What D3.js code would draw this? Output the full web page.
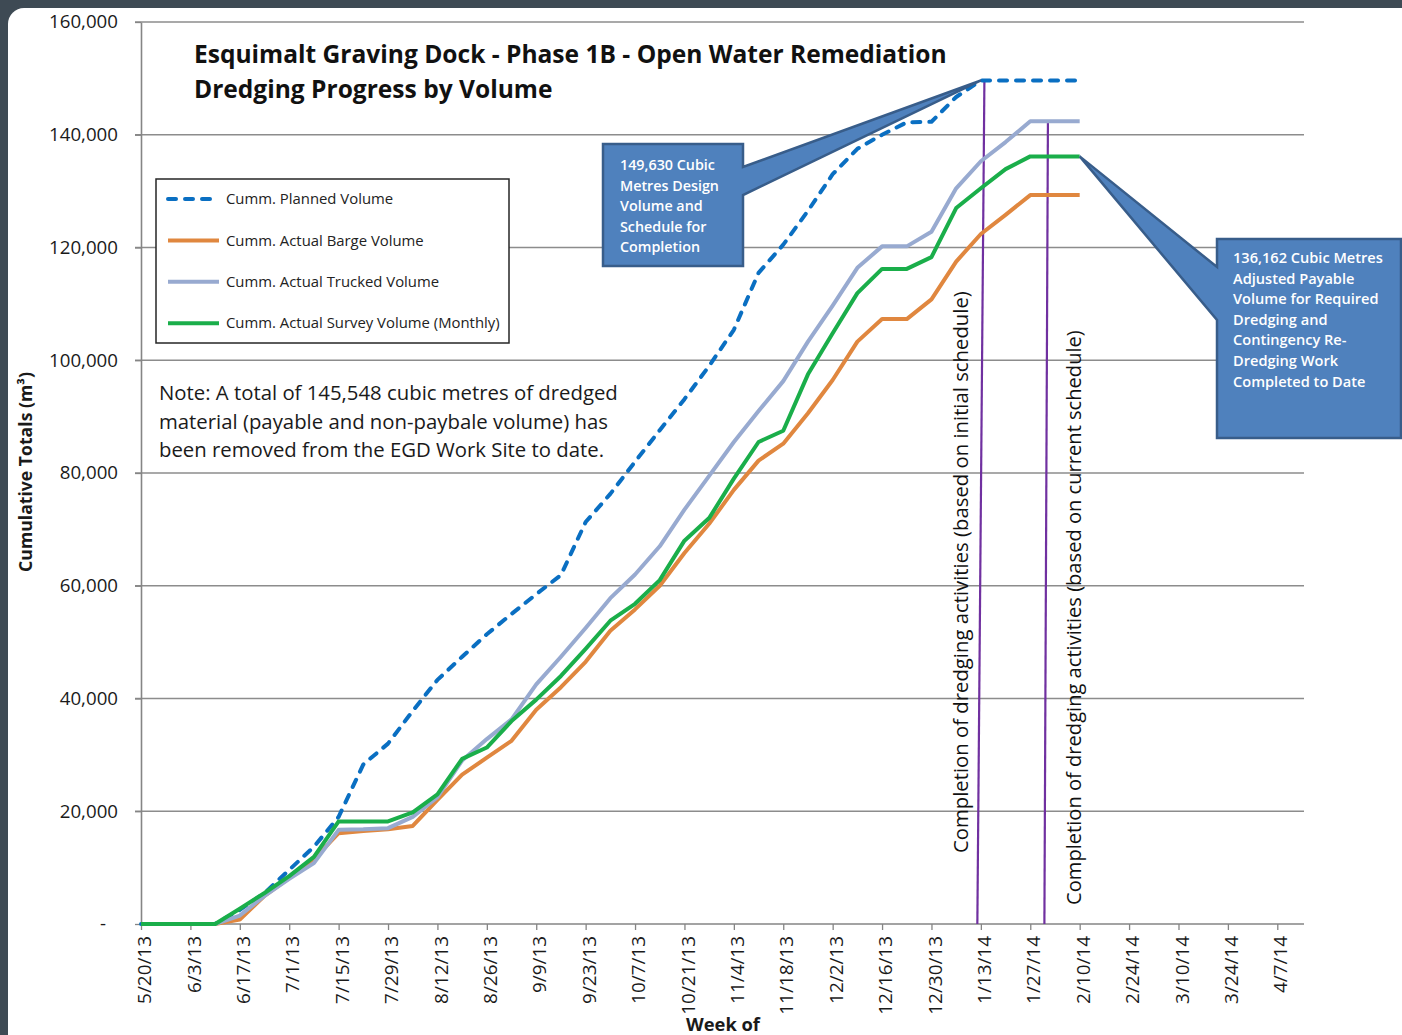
<!DOCTYPE html>
<html>
<head>
<meta charset="utf-8">
<script src="https://cdn.jsdelivr.net/npm/d3@7"></script>
<style>
body { margin: 0; background: #3e4a54; }
svg { display: block; font-family: "Open Sans", "Noto Sans", sans-serif; }
</style>
</head>
<body>
<svg width="1402" height="1035"></svg>
<script>
// ---- Data ----
const weeks = ["5/20/13","5/27/13","6/3/13","6/10/13","6/17/13","6/24/13","7/1/13","7/8/13",
    "7/15/13","7/22/13","7/29/13","8/5/13","8/12/13","8/19/13","8/26/13","9/2/13","9/9/13",
    "9/16/13","9/23/13","9/30/13","10/7/13","10/14/13","10/21/13","10/28/13","11/4/13",
    "11/11/13","11/18/13","11/25/13","12/2/13","12/9/13","12/16/13","12/23/13","12/30/13",
    "1/6/14","1/13/14","1/20/14","1/27/14","2/3/14","2/10/14"];

const tickLabels = ["5/20/13","6/3/13","6/17/13","7/1/13","7/15/13","7/29/13","8/12/13",
    "8/26/13","9/9/13","9/23/13","10/7/13","10/21/13","11/4/13","11/18/13","12/2/13",
    "12/16/13","12/30/13","1/13/14","1/27/14","2/10/14","2/24/14","3/10/14","3/24/14","4/7/14"];

const planned = [0,0,0,0,2500,5500,9600,13700,19000,28300,32000,37800,43300,47400,51400,
    55000,58500,61900,71300,76300,82000,87600,93100,99000,105400,115500,120500,126500,
    133000,137500,140000,142200,142300,146700,149630,149630,149630,149630,149630];
const barge = [0,0,0,0,800,5000,8200,11500,16100,16500,16800,17400,22000,26500,29500,
    32500,38000,42000,46500,52000,55800,60000,65800,71000,77000,82200,85200,90600,96500,
    103300,107300,107300,110800,117500,122400,125800,129300,129300,129300];
const trucked = [0,0,0,0,1500,5000,8000,10800,16700,16800,17000,19000,22500,29000,32800,
    36300,42500,47400,52500,57800,62000,67000,73500,79500,85500,91000,96300,103300,109700,
    116400,120200,120200,122800,130500,135300,138700,142400,142400,142400];
const survey = [0,0,0,0,2700,5500,8500,11900,18200,18200,18200,19800,23000,29300,31300,
    36000,39800,44000,48800,53800,56800,61000,68000,72000,79000,85500,87500,97500,104800,
    111900,116200,116200,118300,127000,130500,133900,136162,136162,136162];

const seriesNames = ["Cumm. Planned Volume", "Cumm. Actual Barge Volume",
    "Cumm. Actual Trucked Volume", "Cumm. Actual Survey Volume (Monthly)"];
const yTicks = [0,20000,40000,60000,80000,100000,120000,140000,160000];

const titleLines = ["Esquimalt Graving Dock - Phase 1B - Open Water Remediation",
    "Dredging Progress by Volume"];
const noteLines = ["Note: A total of 145,548 cubic metres of dredged",
    "material (payable and non-paybale volume) has",
    "been removed from the EGD Work Site to date."];
const callout1 = ["149,630 Cubic", "Metres Design", "Volume and", "Schedule for", "Completion"];
const callout2 = ["136,162 Cubic Metres", "Adjusted Payable", "Volume for Required",
    "Dredging and", "Contingency Re-", "Dredging Work", "Completed to Date"];
const completionLabels = ["Completion of dredging activities (based on initial schedule)",
    "Completion of dredging activities (based on current schedule)"];

// ---- Setup ----
const parse = d3.timeParse("%m/%d/%y");
const svg = d3.select("svg");

// white page with rounded corner over the dark frame
svg.append("rect")
    .attr("x", 8).attr("y", 8)
    .attr("width", 1420).attr("height", 1060)
    .attr("rx", 16)
    .attr("fill", "#ffffff");

const x = d3.scaleTime()
    .domain([parse("5/20/13"), parse("4/14/14")])
    .range([141, 1302]);
const y = d3.scaleLinear()
    .domain([0, 160000])
    .range([924, 22]);
const xRight = 1304;

// scale a set of text nodes so that a reference line gets a given width
function fitSize(sel, refNode, width) {
    const fs = parseFloat(d3.select(refNode).style("font-size"));
    const L = refNode.getComputedTextLength();
    sel.style("font-size", (fs * width / L) + "px");
}

// ---- Grid ----
svg.append("g")
    .selectAll("line")
    .data(yTicks.filter(d => d > 0))
    .join("line")
    .attr("x1", 135).attr("x2", xRight)
    .attr("y1", d => y(d)).attr("y2", d => y(d))
    .attr("stroke", "#8c8c8c")
    .attr("stroke-width", 1.3);

// ---- Axes ----
const yAxis = svg.append("g")
    .attr("transform", "translate(141,0)")
    .call(d3.axisLeft(y)
        .tickValues(yTicks)
        .tickSize(6)
        .tickSizeOuter(0)
        .tickPadding(17)
        .tickFormat(d => d === 0 ? "-" : d3.format(",")(d)));
yAxis.select(".domain").attr("stroke", "#858585").attr("stroke-width", 1.6);
yAxis.selectAll(".tick line").attr("stroke", "#858585").attr("stroke-width", 1.3);
yAxis.selectAll(".tick text")
    .attr("fill", "#1a1a1a")
    .style("font-family", "'Open Sans', sans-serif")
    .style("font-size", "18px")
    .attr("dx", d => d === 0 ? -12 : 0);
fitSize(yAxis.selectAll(".tick text"), yAxis.selectAll(".tick text").nodes()[8], 69);

const tickDates = tickLabels.map(parse);
const xAxis = svg.append("g")
    .attr("transform", "translate(0,924)")
    .call(d3.axisBottom(x)
        .tickValues(tickDates)
        .tickSize(6)
        .tickSizeOuter(0)
        .tickFormat(d3.timeFormat("%-m/%-d/%y")));
xAxis.select(".domain")
    .attr("d", `M141,0H${xRight}`)
    .attr("stroke", "#858585").attr("stroke-width", 1.6);
xAxis.selectAll(".tick line").attr("stroke", "#858585").attr("stroke-width", 1.3);
xAxis.selectAll(".tick text")
    .attr("transform", "rotate(-90)")
    .attr("text-anchor", "end")
    .attr("x", -12)
    .attr("y", 3)
    .attr("dy", "0.35em")
    .attr("fill", "#1a1a1a")
    .style("font-family", "'Open Sans', sans-serif")
    .style("font-size", "18px");
fitSize(xAxis.selectAll(".tick text"), xAxis.selectAll(".tick text").nodes()[0], 68);

// axis titles
const yTitle = svg.append("text")
    .attr("transform", "translate(32,472) rotate(-90)")
    .attr("text-anchor", "middle")
    .attr("font-weight", "bold")
    .attr("fill", "#1a1a1a")
    .style("font-size", "15px")
    .text("Cumulative Totals (m³)");
fitSize(yTitle, yTitle.node(), 200);

const xTitle = svg.append("text")
    .attr("x", 723).attr("y", 1031)
    .attr("text-anchor", "middle")
    .attr("font-weight", "bold")
    .attr("fill", "#1a1a1a")
    .style("font-size", "17px")
    .text("Week of");
fitSize(xTitle, xTitle.node(), 74);

// ---- Completion lines ----
const completionLines = [
    {bottom: parse("1/12/14"), top: parse("1/14/14"), value: 149630},
    {bottom: parse("1/31/14"), top: parse("2/1/14"), value: 142400}
];
svg.append("g")
    .selectAll("line")
    .data(completionLines)
    .join("line")
    .attr("x1", d => x(d.bottom)).attr("y1", y(0))
    .attr("x2", d => x(d.top)).attr("y2", d => y(d.value))
    .attr("stroke", "#7030a0")
    .attr("stroke-width", 2.2);

const compText = svg.append("g")
    .selectAll("text")
    .data(completionLabels)
    .join("text")
    .attr("transform", (d, i) => i === 0 ? "translate(968,853) rotate(-90)" : "translate(1081,905) rotate(-90)")
    .attr("fill", "#111")
    .style("font-size", "19px")
    .text(d => d);
compText.each(function (d, i) {
    fitSize(d3.select(this), this, i === 0 ? 562 : 575);
});

// ---- Series ----
const series = [
    {name: seriesNames[0], values: planned, color: "#0a6fc2", dash: "8,9"},
    {name: seriesNames[1], values: barge, color: "#e0873f", dash: null},
    {name: seriesNames[2], values: trucked, color: "#98aad0", dash: null},
    {name: seriesNames[3], values: survey, color: "#1aae4a", dash: null}
];
const line = d3.line()
    .x((d, i) => x(parse(weeks[i])))
    .y(d => y(d));

svg.append("g")
    .selectAll("path")
    .data(series)
    .join("path")
    .attr("d", d => line(d.values))
    .attr("fill", "none")
    .attr("stroke", d => d.color)
    .attr("stroke-width", 4)
    .attr("stroke-linejoin", "round")
    .attr("stroke-linecap", d => d.dash ? "round" : "butt")
    .attr("stroke-dasharray", d => d.dash);

// ---- Title ----
const title = svg.append("g")
    .selectAll("text")
    .data(titleLines)
    .join("text")
    .attr("x", 194)
    .attr("y", (d, i) => 63 + i * 35)
    .attr("font-weight", "bold")
    .attr("fill", "#111")
    .style("font-size", "22px")
    .text(d => d);
fitSize(title, title.nodes()[0], 753);

// ---- Legend ----
const legend = svg.append("g");
legend.append("rect")
    .attr("x", 156).attr("y", 179)
    .attr("width", 353).attr("height", 164)
    .attr("fill", "#fff")
    .attr("stroke", "#262626")
    .attr("stroke-width", 1.5);
const rows = legend.selectAll("g")
    .data(series)
    .join("g")
    .attr("transform", (d, i) => `translate(0,${199 + i * 41.4})`);
rows.append("line")
    .attr("x1", 168).attr("x2", 219)
    .attr("stroke", d => d.color)
    .attr("stroke-width", 4)
    .attr("stroke-linecap", d => d.dash ? "round" : "butt")
    .attr("stroke-dasharray", d => d.dash);
const legText = rows.append("text")
    .attr("x", 226)
    .attr("dy", "0.35em")
    .attr("fill", "#222")
    .style("font-size", "14px")
    .text(d => d.name);
fitSize(legText, legText.nodes()[3], 274);

// ---- Note ----
const note = svg.append("g")
    .selectAll("text")
    .data(noteLines)
    .join("text")
    .attr("x", 159)
    .attr("y", (d, i) => 400 + i * 28.5)
    .attr("fill", "#1a1a1a")
    .style("font-size", "19px")
    .text(d => d);
fitSize(note, note.nodes()[0], 459);

// ---- Callouts ----
function callout(box, tip, wedge, lines, tx, ty, refIdx, refW) {
    const [x0, y0, x1, y1] = box;
    let d;
    if (tip[0] > x1) {
        d = `M${x0},${y0}H${x1}V${wedge[0]}L${tip[0]},${tip[1]}L${x1},${wedge[1]}V${y1}H${x0}Z`;
    } else {
        d = `M${x0},${y0}H${x1}V${y1}H${x0}V${wedge[1]}L${tip[0]},${tip[1]}L${x0},${wedge[0]}Z`;
    }
    const g = svg.append("g");
    g.append("path")
        .attr("d", d)
        .attr("fill", "#4f81bd")
        .attr("stroke", "#385d8a")
        .attr("stroke-width", 2.5)
        .attr("stroke-linejoin", "miter");
    const t = g.selectAll("text")
        .data(lines)
        .join("text")
        .attr("x", tx)
        .attr("y", (s, i) => ty + i * 20.6)
        .attr("fill", "#fff")
        .attr("font-weight", 600)
        .style("font-size", "14px")
        .text(s => s);
    fitSize(t, t.nodes()[refIdx], refW);
}
callout([603, 144, 743, 266], [x(parse("1/13/14")), y(149630)], [167, 195],
    callout1, 620, 170, 1, 99);
callout([1217, 239, 1401, 438], [x(parse("2/10/14")), y(136162)], [267, 320],
    callout2, 1233, 263, 0, 150);
</script>
</body>
</html>
